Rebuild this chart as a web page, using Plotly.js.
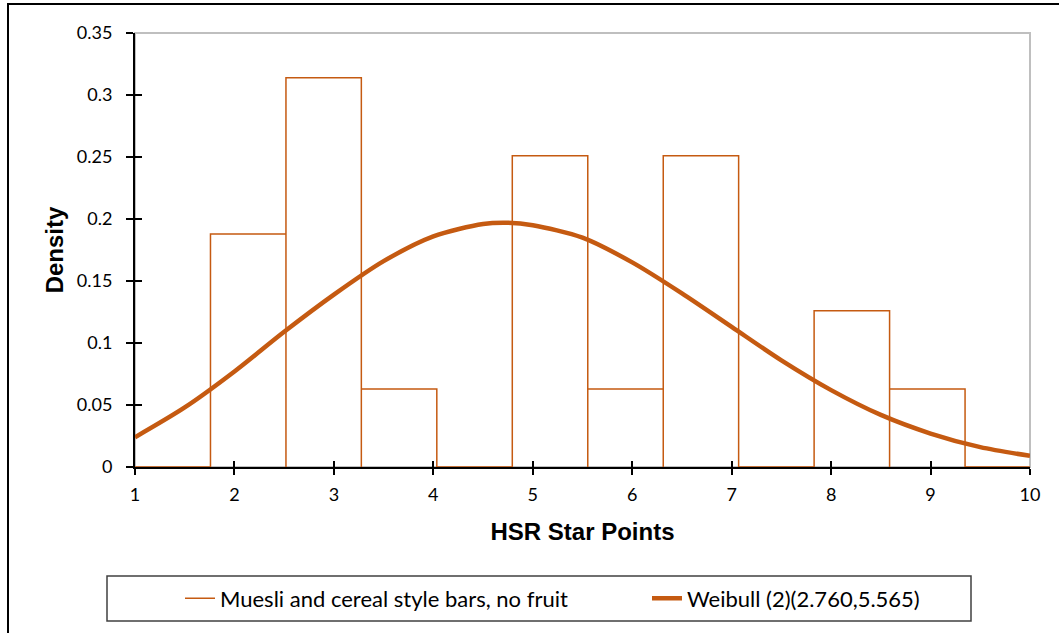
<!DOCTYPE html>
<html>
<head>
<meta charset="utf-8">
<script src="https://cdn.plot.ly/plotly-3.0.1.min.js"></script>
<style>
  html, body { margin: 0; padding: 0; background: #ffffff; }
  #wrap { position: relative; width: 1059px; height: 633px; overflow: hidden; }
  #chart { width: 1059px; height: 633px; }
  #frame { position: absolute; left: 7px; top: 3px; width: 1100px; height: 700px;
           border-left: 2px solid #000; border-top: 2px solid #000; pointer-events: none; }
</style>
</head>
<body>
<div id="wrap">
  <div id="chart"></div>
  <div id="frame"></div>
</div>
<script>
// Histogram bin edges (HSR star points) and densities
const binEdges = [1.0, 1.759, 2.518, 3.276, 4.035, 4.794, 5.553, 6.312, 7.070, 7.829, 8.588, 9.347, 10.0];
const binDensity = [0, 0.188, 0.314, 0.063, 0, 0.251, 0.063, 0.251, 0, 0.126, 0.063, 0];

// Fitted Weibull curve
const curveX = [1, 1.5, 2, 2.5, 3, 3.5, 4, 4.5, 4.75, 5, 5.5, 6, 6.5, 7, 7.5, 8, 8.5, 9, 9.5, 10];
const curveY = [0.024, 0.048, 0.077, 0.109, 0.139, 0.166, 0.186, 0.196, 0.197, 0.195, 0.185, 0.165, 0.140, 0.113, 0.086, 0.062, 0.042, 0.027, 0.016, 0.009];

const seriesNames = ['Muesli and cereal style bars, no fruit', 'Weibull (2)(2.760,5.565)'];
const xTicks = [1, 2, 3, 4, 5, 6, 7, 8, 9, 10];
const yTicks = [0, 0.05, 0.1, 0.15, 0.2, 0.25, 0.3, 0.35];
const yTickText = ['0', '0.05', '0.1', '0.15', '0.2', '0.25', '0.3', '0.35'];

const orange = '#C55A11';

// Build histogram outline from the bins
const hx = [], hy = [];
for (let i = 0; i < binDensity.length; i++) {
  hx.push(binEdges[i], binEdges[i], binEdges[i + 1], binEdges[i + 1]);
  hy.push(0, binDensity[i], binDensity[i], 0);
}

const traces = [
  { x: hx, y: hy, type: 'scatter', mode: 'lines', name: seriesNames[0], legend: 'legend',
    line: { color: orange, width: 1.5 }, cliponaxis: false, hoverinfo: 'skip' },
  { x: curveX, y: curveY, type: 'scatter', mode: 'lines', name: seriesNames[1], legend: 'legend2',
    line: { color: orange, width: 4.5, shape: 'spline', smoothing: 0.8 }, cliponaxis: false },
  // helper trace so the overlaying tick axes (crossing tick marks) are drawn
  { x: curveX, y: curveY, xaxis: 'x2', yaxis: 'y2', type: 'scatter', mode: 'lines',
    line: { width: 0, color: 'rgba(0,0,0,0)' }, showlegend: false, hoverinfo: 'skip' }
];

const tickFont = { family: 'Lato, sans-serif', size: 18, color: '#000' };
const titleFont = { family: '"Liberation Sans", Arial, sans-serif', size: 24, color: '#000', weight: 'bold' };
const legendFont = { family: 'Lato, sans-serif', size: 22, color: '#000' };

const layout = {
  width: 1059, height: 633,
  margin: { l: 135, r: 29, t: 33, b: 166 },
  paper_bgcolor: '#ffffff', plot_bgcolor: '#ffffff',
  showlegend: true,
  xaxis: {
    range: [1, 10], tickvals: xTicks, ticktext: xTicks.map(String),
    showgrid: false, zeroline: false, showline: true, linecolor: '#000', linewidth: 2,
    ticks: 'outside', ticklen: 6, tickwidth: 2, tickcolor: '#000',
    tickfont: tickFont, layer: 'below traces', ticklabelstandoff: 4,
    title: { text: 'HSR Star Points', font: titleFont, standoff: 20 }
  },
  yaxis: {
    range: [0, 0.35], tickvals: yTicks, ticktext: yTickText,
    showgrid: false, zeroline: false, showline: true, linecolor: '#000', linewidth: 2,
    ticks: 'outside', ticklen: 7, tickwidth: 2, tickcolor: '#000',
    tickfont: tickFont, layer: 'below traces', ticklabelstandoff: 10,
    title: { text: 'Density', font: titleFont, standoff: 6 }
  },
  xaxis2: { overlaying: 'x', anchor: 'y', side: 'bottom', range: [1, 10], tickvals: xTicks, showticklabels: false,
    ticks: 'inside', ticklen: 6, tickwidth: 2, tickcolor: '#000', showgrid: false, zeroline: false, showline: false },
  yaxis2: { overlaying: 'y', anchor: 'x', side: 'left', range: [0, 0.35], tickvals: yTicks, showticklabels: false,
    ticks: 'inside', ticklen: 7, tickwidth: 2, tickcolor: '#000', showgrid: false, zeroline: false, showline: false },
  shapes: [
    { type: 'rect', xref: 'paper', yref: 'paper', x0: 0, x1: 1, y0: 0, y1: 1,
      line: { color: '#BFBFBF', width: 2 }, layer: 'below' },
    { type: 'rect', xref: 'paper', yref: 'paper',
      x0: (107 - 135) / 895, x1: (971 - 135) / 895, y0: (467 - 621) / 434, y1: (467 - 576) / 434,
      line: { color: '#404040', width: 1.5 }, layer: 'below' }
  ],
  legend: {
    orientation: 'h', x: (180 - 135) / 895, xanchor: 'left', y: (467 - 598.5) / 434, yanchor: 'middle',
    font: legendFont, bgcolor: 'rgba(0,0,0,0)', borderwidth: 0
  },
  legend2: {
    orientation: 'h', x: (647 - 135) / 895, xanchor: 'left', y: (467 - 598.5) / 434, yanchor: 'middle',
    font: legendFont, bgcolor: 'rgba(0,0,0,0)', borderwidth: 0
  }
};

Plotly.newPlot('chart', traces, layout, { displayModeBar: false, staticPlot: true });
</script>
</body>
</html>
